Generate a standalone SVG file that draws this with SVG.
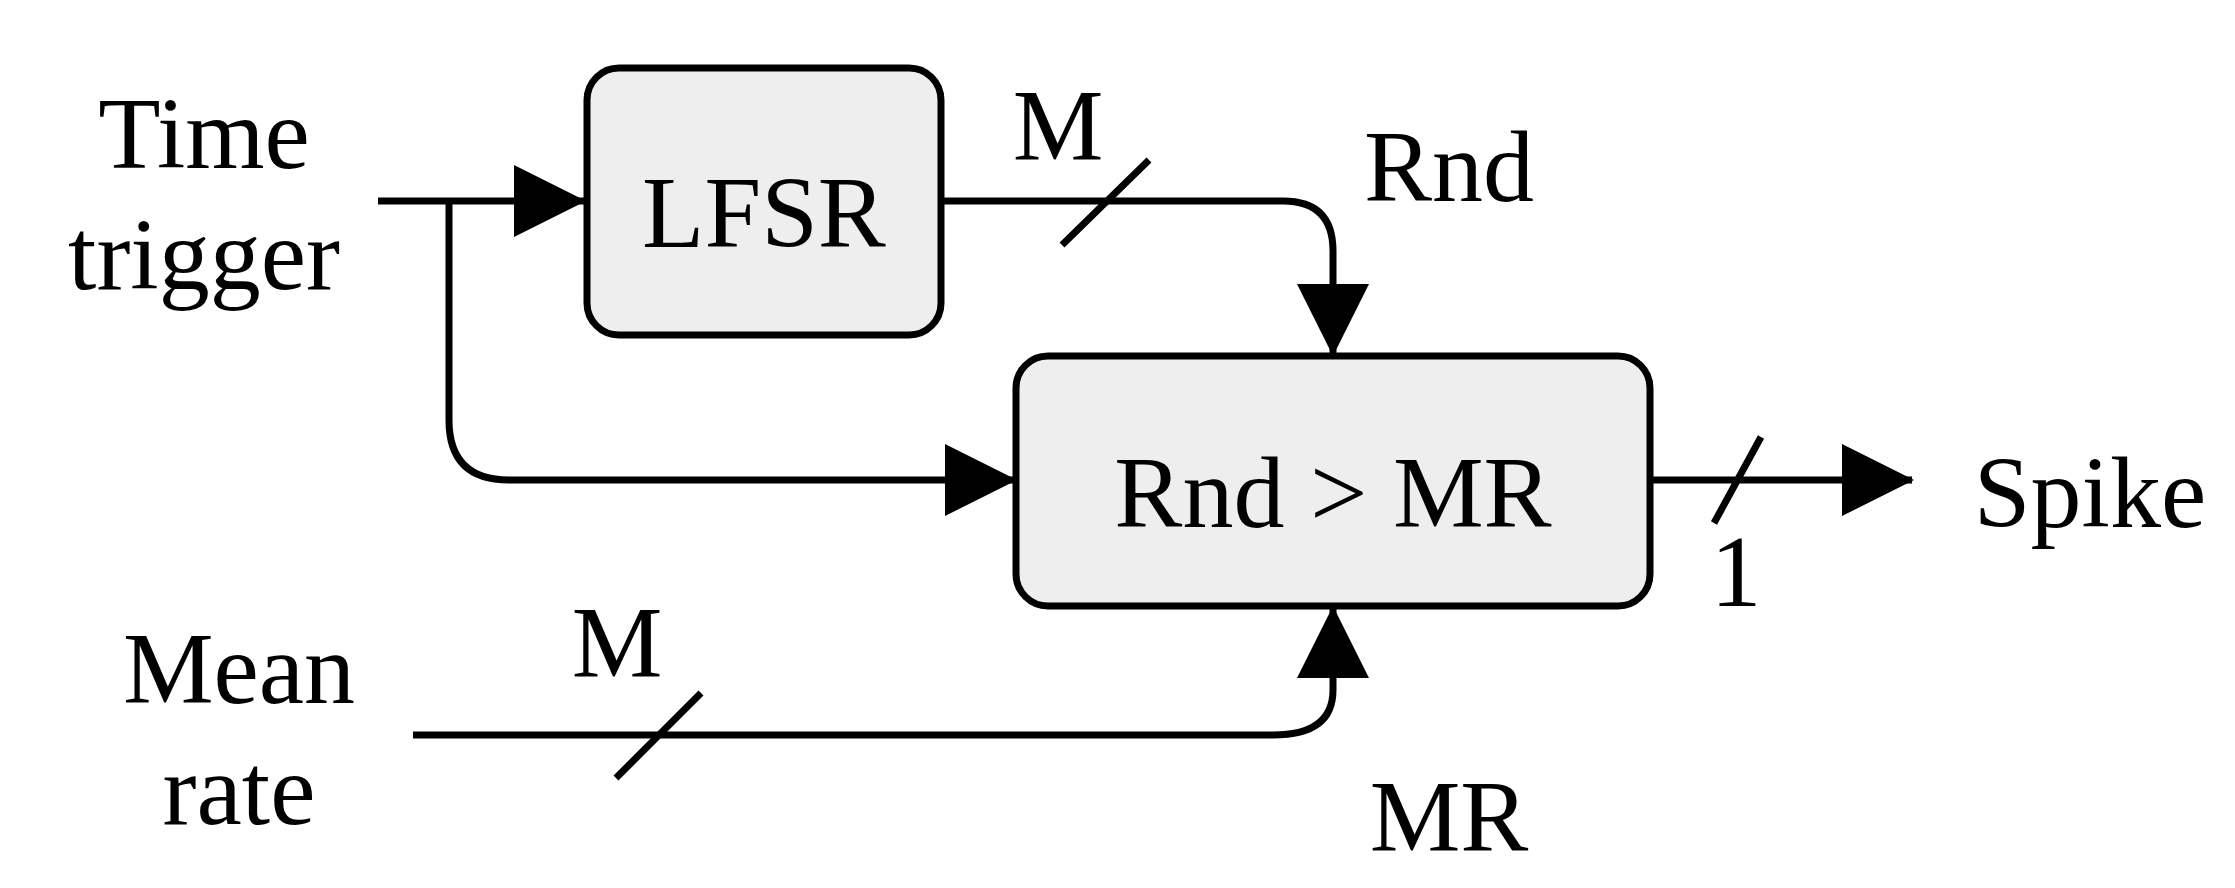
<svg xmlns="http://www.w3.org/2000/svg" width="2235" height="888" viewBox="0 0 2235 888">
<style>
text{font-family:"Liberation Serif",serif;font-size:102px;fill:#000;text-anchor:middle}
.box{fill:#eeeeee;stroke:#000;stroke-width:7}
.ln{fill:none;stroke:#000;stroke-width:7}
</style>
<defs><marker id="a" markerUnits="userSpaceOnUse" markerWidth="72" markerHeight="72" refX="70" refY="36" orient="auto"><path d="M0,0L72,36L0,72Z" fill="#000"/></marker></defs>
<rect width="2235" height="888" fill="#fff"/>
<g id="connectors">
<path class="ln" d="M378,201H584" marker-end="url(#a)"/>
<path class="ln" d="M449,201V420Q449,480 509,480H1015" marker-end="url(#a)"/>
<path class="ln" d="M941,201H1283Q1333,201 1333,251V354" marker-end="url(#a)"/>
<path class="ln" d="M413,735H1273Q1333,735 1333,690V608" marker-end="url(#a)"/>
<path class="ln" d="M1650,480H1912" marker-end="url(#a)"/>
<path class="ln" d="M1062,245L1149,160M1714,523L1761,437M616,778L701,693"/>
</g>
<g id="lfsr"><rect class="box" x="587" y="68" width="354" height="267" rx="32"/><text x="764" y="247">LFSR</text></g>
<g id="cmp"><rect class="box" x="1016" y="356" width="634" height="250" rx="32"/><text x="1333" y="527">Rnd &gt; MR</text></g>
<g id="labels">
<text x="204" y="168">Time</text><text x="204" y="289">trigger</text>
<text x="239" y="703">Mean</text><text x="239" y="824">rate</text>
<text x="1058" y="160">M</text><text x="1449" y="201">Rnd</text>
<text x="617" y="677">M</text><text x="1449" y="851">MR</text>
<text x="1736" y="606">1</text><text x="2090" y="527">Spike</text>
</g>
</svg>
